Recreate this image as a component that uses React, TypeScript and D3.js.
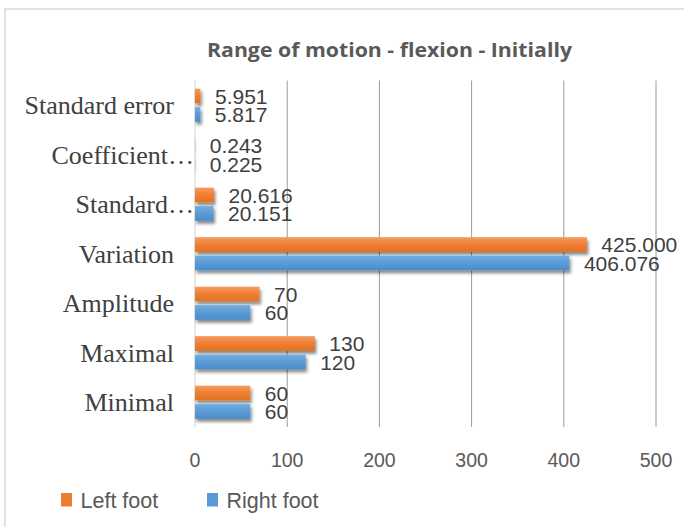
import React from "react";
import * as d3 from "d3";

const categories = ["Standard error", "Coefficient…", "Standard…", "Variation", "Amplitude", "Maximal", "Minimal"];
const leftFoot = [5.951, 0.243, 20.616, 425.0, 70, 130, 60];
const rightFoot = [5.817, 0.225, 20.151, 406.076, 60, 120, 60];
const decimals = [3, 3, 3, 3, 0, 0, 0];
const xTicks = [0, 100, 200, 300, 400, 500];
const seriesNames = ["Left foot", "Right foot"];
const chartTitle = "Range of motion - flexion - Initially";

const width = 684,
    height = 527,
    plot = { left: 195, right: 656, top: 80.5, bottom: 427 };

const colors = ["#ED7D31", "#5B9BD5"];

const App = () => {
    const xScale = d3.scaleLinear().domain([0, 500]).range([plot.left, plot.right]);

    const yScale = d3.scaleBand()
        .domain(categories)
        .range([plot.top, plot.bottom])
        .paddingInner(0.33)
        .paddingOuter(0.165);

    const inner = d3.scaleBand()
        .domain(seriesNames)
        .range([0, yScale.bandwidth()])
        .paddingInner(0.2);

    const series = [leftFoot, rightFoot];

    return (
        <svg width={width} height={height} style={{ position: "absolute", left: 0, top: 0 }}>
            <defs>
                <linearGradient id="grad-left" x1="0" y1="0" x2="0" y2="1">
                    <stop offset="0%" stopColor="#F59B5E" />
                    <stop offset="50%" stopColor="#EE7F34" />
                    <stop offset="100%" stopColor="#E2711F" />
                </linearGradient>
                <linearGradient id="grad-right" x1="0" y1="0" x2="0" y2="1">
                    <stop offset="0%" stopColor="#72AEE2" />
                    <stop offset="50%" stopColor="#5B9BD5" />
                    <stop offset="100%" stopColor="#4A8BC9" />
                </linearGradient>
                <filter id="shadow" x="-10%" y="-30%" width="130%" height="180%">
                    <feDropShadow dx="1.5" dy="3" stdDeviation="1.8" floodColor="#000" floodOpacity="0.45" />
                </filter>
            </defs>

            <rect x={5} y={9} width={width + 20} height={height + 20} fill="#fff" stroke="#d9d9d9" strokeWidth={1.5} />

            <text
                x={389.5}
                y={57}
                textAnchor="middle"
                fontFamily="'Open Sans', 'Liberation Sans', sans-serif"
                fontWeight="bold"
                fontSize={19}
                fill="#595959"
                textLength={365}
                lengthAdjust="spacingAndGlyphs"
            >
                {chartTitle}
            </text>

            {/* gridlines */}
            {xTicks.map(t => (
                <line
                    key={t}
                    x1={xScale(t)}
                    x2={xScale(t)}
                    y1={plot.top}
                    y2={plot.bottom}
                    stroke={t === 0 ? "#d0d0d0" : "#9a9a9a"}
                    strokeWidth={1}
                />
            ))}

            {/* bars */}
            {series.map((vals, si) => (
                <g key={si} filter="url(#shadow)">
                    {categories.map((c, i) => (
                        <rect
                            key={c}
                            x={xScale(0)}
                            y={(yScale(c) as number) + (inner(seriesNames[si]) as number)}
                            width={xScale(vals[i]) - xScale(0)}
                            height={inner.bandwidth()}
                            fill={si === 0 ? "url(#grad-left)" : "url(#grad-right)"}
                        />
                    ))}
                </g>
            ))}

            {/* data labels */}
            {series.map((vals, si) =>
                categories.map((c, i) => (
                    <text
                        key={`${si}-${c}`}
                        x={xScale(vals[i]) + 14.5}
                        y={(yScale(c) as number) + (inner(seriesNames[si]) as number) + inner.bandwidth() / 2}
                        dy="0.36em"
                        fontFamily="'Liberation Sans', Arial, sans-serif"
                        fontSize={21}
                        fill="#404040"
                    >
                        {vals[i].toFixed(decimals[i])}
                    </text>
                ))
            )}

            {/* category labels */}
            {categories.map(c => (
                <text
                    key={c}
                    x={c.endsWith("…") ? 194 : 174}
                    y={(yScale(c) as number) + yScale.bandwidth() / 2}
                    dy="0.35em"
                    textAnchor="end"
                    fontFamily="'Liberation Serif', 'Times New Roman', serif"
                    fontSize={26}
                    fill="#404040"
                >
                    {c}
                </text>
            ))}

            {/* x tick labels */}
            {xTicks.map(t => (
                <text
                    key={t}
                    x={xScale(t)}
                    y={467}
                    textAnchor="middle"
                    fontFamily="'Liberation Sans', Arial, sans-serif"
                    fontSize={19.5}
                    fill="#595959"
                >
                    {t}
                </text>
            ))}

            {/* legend */}
            {seriesNames.map((s, i) => {
                const lx = i === 0 ? 61 : 207;
                return (
                    <g key={s}>
                        <rect x={lx} y={493} width={11} height={13.5} fill={colors[i]} />
                        <text
                            x={lx + 19.5}
                            y={508}
                            fontFamily="'Liberation Sans', Arial, sans-serif"
                            fontSize={21.5}
                            fill="#595959"
                        >
                            {s}
                        </text>
                    </g>
                );
            })}
        </svg>
    );
};

export default App;
